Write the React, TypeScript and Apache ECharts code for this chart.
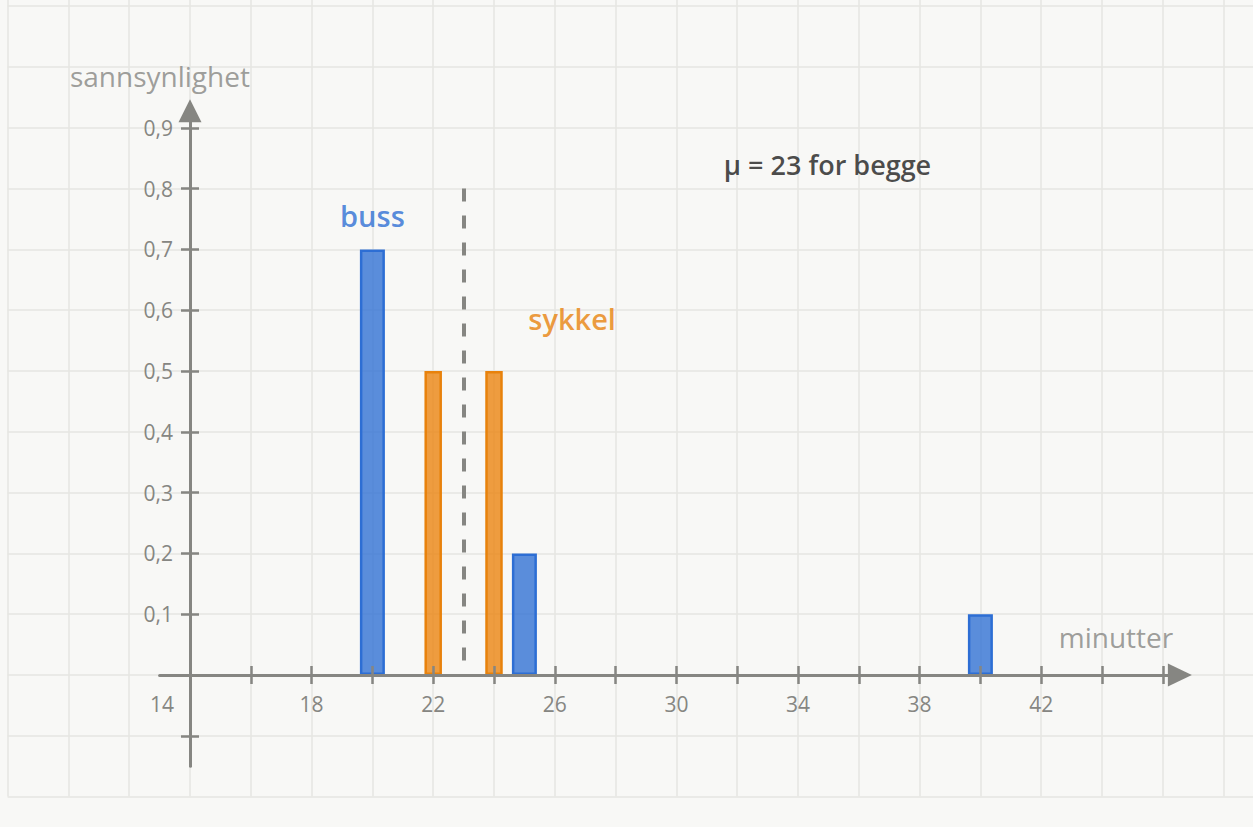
import { useEffect, useRef } from "react";
import * as echarts from "echarts";

// ---- data ----
const busMinutes = [20, 25, 40];
const busProb = [0.7, 0.2, 0.1];
const bikeMinutes = [22, 24];
const bikeProb = [0.5, 0.5];
const meanMinutes = 23;
const meanLineTop = 0.8;

const xTickValues = [16, 18, 20, 22, 24, 26, 28, 30, 32, 34, 36, 38, 40, 42, 44, 46];
const xLabelValues = [14, 18, 22, 26, 30, 34, 38, 42];
const yTickValues = [-0.1, 0.1, 0.2, 0.3, 0.4, 0.5, 0.6, 0.7, 0.8, 0.9];
const yLabelValues = [0.1, 0.2, 0.3, 0.4, 0.5, 0.6, 0.7, 0.8, 0.9];

const annotationTexts = ["sannsynlighet", "minutter", "buss", "sykkel", "μ = 23 for begge"];
const annotationMinutes = [13.01, 44.46, 20, 26.57, 34.97];
const annotationProb = [0.985, 0.0625, 0.755, 0.587, 0.84];

// ---- layout (pixels) ----
const W = 1253;
const H = 827;
const ORIGIN_X = 190;
const ORIGIN_Y = 675;
const ORIGIN_MIN = 14;
const PX_PER_MIN = 30.4;
const PX_PER_PROB = 608;

const X_MIN = 13;
const X_MAX = 46.2;
const Y_MIN = -0.15;
const Y_MAX = 0.91;
const BG_X_MIN = 8;
const BG_Y_MIN = -0.2;

const GRAY = "#868682";
const BLUE = "#2d6ed4";
const ORANGE = "#e8820c";
const FONT = "'Open Sans', 'Noto Sans', sans-serif";

const annotationStyles = [
  { color: GRAY, fontSize: 28, fontWeight: 500 },
  { color: GRAY, fontSize: 28, fontWeight: 500 },
  { color: BLUE, fontSize: 29, fontWeight: 600 },
  { color: ORANGE, fontSize: 29, fontWeight: 600 },
  { color: "#1c1c1c", fontSize: 27, fontWeight: 600 },
];

function buildOption() {
  const gridALeft = ORIGIN_X + (X_MIN - ORIGIN_MIN) * PX_PER_MIN;
  const gridARight = W - (ORIGIN_X + (X_MAX - ORIGIN_MIN) * PX_PER_MIN);
  const gridATop = ORIGIN_Y - Y_MAX * PX_PER_PROB;
  const gridABottom = H - (ORIGIN_Y - Y_MIN * PX_PER_PROB);

  const gridCLeft = ORIGIN_X + (BG_X_MIN - ORIGIN_MIN) * PX_PER_MIN;
  const gridCBottom = H - (ORIGIN_Y - BG_Y_MIN * PX_PER_PROB);
  const bgXMax = BG_X_MIN + (W - gridCLeft) / PX_PER_MIN;
  const bgYMax = ORIGIN_Y / PX_PER_PROB;

  const xOffset = Y_MIN * PX_PER_PROB; // moves x axis up to y = 0
  const yOffset = (X_MIN - ORIGIN_MIN) * PX_PER_MIN; // moves y axis right to x = 14

  const labelStyle = { color: GRAY, fontSize: 21, fontWeight: 500, fontFamily: FONT };

  const baseX = {
    type: "value",
    gridIndex: 0,
    min: X_MIN,
    max: X_MAX,
    position: "bottom",
    offset: xOffset,
    z: 3,
    splitLine: { show: false },
  };
  const baseY = {
    type: "value",
    gridIndex: 0,
    min: Y_MIN,
    max: Y_MAX,
    position: "left",
    offset: yOffset,
    z: 3,
    splitLine: { show: false },
  };

  return {
    animation: false,
    backgroundColor: "#f8f8f6",
    textStyle: { fontFamily: FONT },
    grid: [
      { left: gridALeft, right: gridARight, top: gridATop, bottom: gridABottom, containLabel: false, outerBoundsMode: "none" },
      { left: gridCLeft, right: 0, top: 0, bottom: gridCBottom, containLabel: false, outerBoundsMode: "none" },
    ],
    xAxis: [
      {
        ...baseX,
        axisLine: {
          show: true,
          onZero: false,
          symbol: ["none", "triangle"],
          symbolSize: [23, 24],
          symbolOffset: [0, 11],
          lineStyle: { color: GRAY, width: 3 },
        },
        axisTick: { show: true, inside: false, length: 9, customValues: xTickValues, lineStyle: { color: GRAY, width: 2.5 } },
        axisLabel: {
          show: true,
          customValues: xLabelValues,
          margin: 18,
          ...labelStyle,
          formatter: (v: number) => (v === ORIGIN_MIN ? `{shift|${v}}` : `${v}`),
          rich: { shift: { ...labelStyle, padding: [0, 56, 0, 0] } },
        },
      },
      {
        ...baseX,
        axisLine: { show: false, onZero: false },
        axisTick: { show: true, inside: true, length: 9, customValues: xTickValues, lineStyle: { color: GRAY, width: 2.5 } },
        axisLabel: { show: false },
      },
      {
        type: "value",
        gridIndex: 1,
        min: BG_X_MIN,
        max: bgXMax,
        interval: 2,
        axisLine: { show: false, onZero: false },
        axisTick: { show: false },
        axisLabel: { show: false },
        splitLine: { show: true, showMaxLine: false, lineStyle: { color: "#e6e6e2", width: 1.5 } },
        z: 0,
      },
    ],
    yAxis: [
      {
        ...baseY,
        axisLine: {
          show: true,
          onZero: false,
          symbol: ["none", "triangle"],
          symbolSize: [23, 23],
          symbolOffset: [0, 11],
          lineStyle: { color: GRAY, width: 3 },
        },
        axisTick: { show: true, inside: false, length: 9, customValues: yTickValues, lineStyle: { color: GRAY, width: 2.5 } },
        axisLabel: {
          show: true,
          customValues: yLabelValues,
          margin: 17,
          ...labelStyle,
          formatter: (v: number) => v.toFixed(1).replace(".", ","),
        },
      },
      {
        ...baseY,
        axisLine: { show: false, onZero: false },
        axisTick: { show: true, inside: true, length: 9, customValues: yTickValues, lineStyle: { color: GRAY, width: 2.5 } },
        axisLabel: { show: false },
      },
      {
        type: "value",
        gridIndex: 1,
        min: BG_Y_MIN,
        max: bgYMax,
        interval: 0.1,
        axisLine: { show: false, onZero: false },
        axisTick: { show: false },
        axisLabel: { show: false },
        splitLine: { show: true, showMaxLine: false, lineStyle: { color: "#e6e6e2", width: 1.5 } },
        z: 0,
      },
    ],
    series: [
      {
        name: "buss",
        type: "bar",
        xAxisIndex: 0,
        yAxisIndex: 0,
        barWidth: 25,
        z: 2,
        itemStyle: { color: "rgba(45,110,212,0.78)", borderColor: BLUE, borderWidth: 2.5 },
        data: busMinutes.map((m, i) => [m, busProb[i]]),
      },
      {
        name: "sykkel",
        type: "bar",
        xAxisIndex: 1,
        yAxisIndex: 1,
        barWidth: 17.5,
        z: 2,
        itemStyle: { color: "rgba(234,130,12,0.78)", borderColor: ORANGE, borderWidth: 2.5 },
        data: bikeMinutes.map((m, i) => [m, bikeProb[i]]),
        markLine: {
          silent: true,
          symbol: ["none", "none"],
          label: { show: false },
          lineStyle: { color: GRAY, width: 4, type: [13, 14] },
          data: [[{ coord: [meanMinutes, meanLineTop] }, { coord: [meanMinutes, 0] }]],
        },
      },
      {
        name: "tekst",
        type: "scatter",
        xAxisIndex: 2,
        yAxisIndex: 2,
        symbolSize: 1,
        z: 5,
        silent: true,
        itemStyle: { color: "rgba(0,0,0,0)" },
        data: annotationTexts.map((t, i) => ({
          value: [annotationMinutes[i], annotationProb[i]],
          label: {
            show: true,
            position: "inside",
            formatter: t,
            fontFamily: FONT,
            ...annotationStyles[i],
          },
        })),
      },
    ],
  };
}

export default function App() {
  const ref = useRef<HTMLDivElement>(null);
  useEffect(() => {
    document.body.style.margin = "0";
    if (!ref.current) return;
    const chart = echarts.init(ref.current, undefined, { renderer: "svg" });
    chart.setOption(buildOption() as any);
    return () => chart.dispose();
  }, []);
  return <div ref={ref} style={{ width: W, height: H }} />;
}
